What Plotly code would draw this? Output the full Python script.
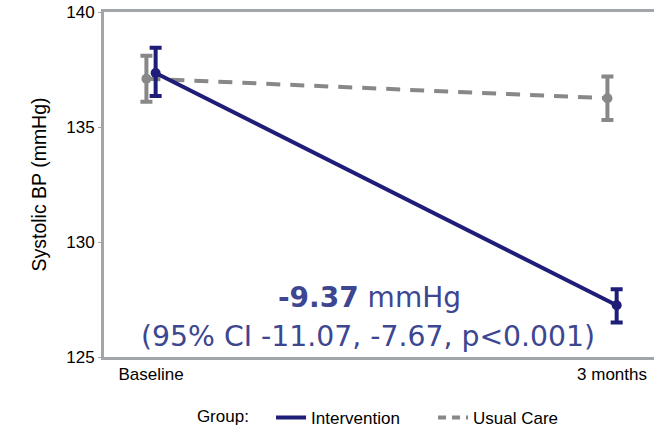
import plotly.graph_objects as go

# Time points and systolic blood pressure (mmHg) by group
timepoints = ["Baseline", "3 months"]
intervention_mean = [137.35, 127.25]
intervention_lo = [136.35, 126.5]
intervention_hi = [138.45, 127.95]
usual_mean = [137.1, 136.25]
usual_lo = [136.1, 135.3]
usual_hi = [138.1, 137.2]

effect = "-9.37"
ci_text = "(95% CI -11.07, -7.67, p<0.001)"

NAVY = "#1e1e78"
GRAY = "#888888"
AXIS = "#a2a6aa"
TEXT_BLUE = "#3d4690"
DASH = "14px,10px"

xpos = list(range(len(timepoints)))
dodge = 0.01

def series(mean, lo, hi, color, dash, shift):
    return go.Scatter(
        x=[p + shift for p in xpos],
        y=mean,
        mode="lines+markers",
        showlegend=False,
        line=dict(color=color, width=4, dash=dash),
        marker=dict(color=color, size=10),
        error_y=dict(
            type="data",
            symmetric=False,
            array=[h - m for h, m in zip(hi, mean)],
            arrayminus=[m - l for m, l in zip(mean, lo)],
            color=color,
            thickness=4,
            width=6,
        ),
    )

def legend_entry(name, color, dash):
    return go.Scatter(
        x=[None], y=[None], mode="lines", name=name,
        line=dict(color=color, width=4, dash=dash),
    )

fig = go.Figure()
fig.add_trace(series(usual_mean, usual_lo, usual_hi, GRAY, DASH, -dodge))
fig.add_trace(series(intervention_mean, intervention_lo, intervention_hi, NAVY, "solid", dodge))
fig.add_trace(legend_entry("Intervention", NAVY, "solid"))
fig.add_trace(legend_entry("Usual Care", GRAY, "8px,6px"))

fig.add_annotation(
    x=0.473, y=127.57, xref="x", yref="y",
    text=f"<b>{effect}</b> mmHg",
    showarrow=False,
    font=dict(family="DejaVu Sans", size=28, color=TEXT_BLUE),
)
fig.add_annotation(
    x=0.471, y=125.87, xref="x", yref="y",
    text=ci_text,
    showarrow=False,
    font=dict(family="DejaVu Sans", size=28.3, color=TEXT_BLUE),
)

fig.update_layout(
    width=654,
    height=434,
    margin=dict(l=104, r=0, t=12, b=77, autoexpand=False),
    paper_bgcolor="white",
    plot_bgcolor="white",
    font=dict(family="Liberation Sans", size=17, color="black"),
    legend=dict(
        orientation="h",
        x=0.298, xanchor="left", xref="container",
        y=0.037, yanchor="middle", yref="container",
        title=dict(text="Group:   ", side="left", font=dict(size=17)),
        font=dict(size=17),
        itemwidth=30,
        entrywidth=117,
    ),
    xaxis=dict(
        range=[-0.102, 1.091],
        tickvals=xpos,
        ticktext=timepoints,
        showgrid=False,
        zeroline=False,
        showline=True,
        linecolor=AXIS,
        linewidth=3,
        mirror=True,
        ticks="",
        tickfont=dict(size=17),
    ),
    yaxis=dict(
        range=[125, 140],
        tickvals=[125, 130, 135, 140],
        showgrid=False,
        zeroline=False,
        showline=True,
        linecolor=AXIS,
        linewidth=3,
        ticks="outside",
        ticklen=3,
        tickcolor=AXIS,
        tickfont=dict(size=17),
        title=dict(text="Systolic BP (mmHg)", font=dict(size=19.5), standoff=15),
    ),
)

fig.write_html("out.html")
